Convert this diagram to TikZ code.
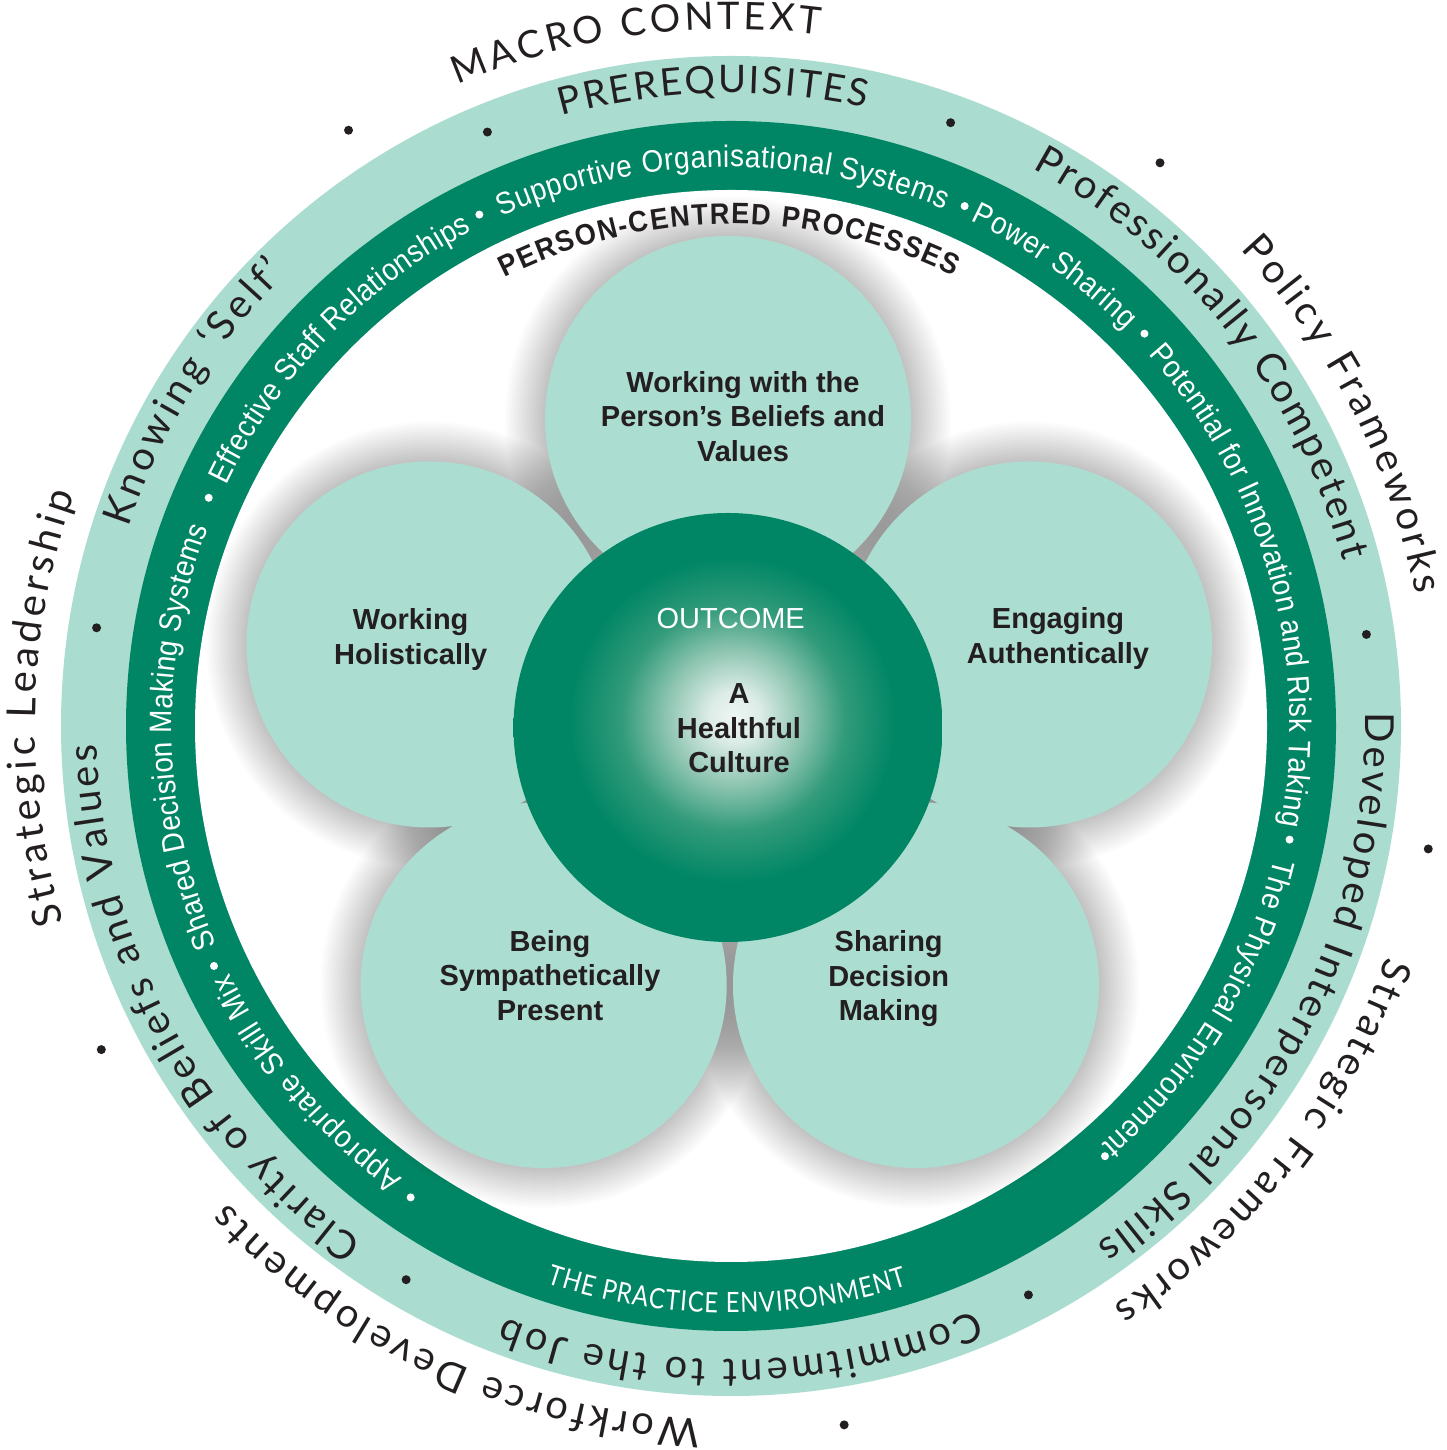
\documentclass[tikz,border=0pt]{standalone}
\usepackage{fontspec}
\setmainfont{Liberation Sans}
\newfontfamily\ringfont{Lato}
\newfontfamily\envfamily[FakeStretch=0.85]{Lato}
\newfontfamily\wfamily[FakeStretch=0.9]{Liberation Sans}
\newfontfamily\pcfamily[FakeStretch=0.92]{Liberation Sans}
\usetikzlibrary{decorations.text,calc}
\definecolor{dg}{RGB}{0,134,101}
\definecolor{lg}{RGB}{170,220,207}
\definecolor{pl}{RGB}{172,221,209}
\definecolor{ink}{RGB}{35,31,32}
\definecolor{hubA}{RGB}{238,246,242}
\definecolor{hubB}{RGB}{220,236,230}
\definecolor{hubC}{RGB}{140,196,176}
\definecolor{hubD}{RGB}{50,155,122}
\pgfdeclareradialshading{hub}{\pgfpoint{0.8bp}{1.4bp}}{color(0bp)=(hubA); color(3bp)=(hubB); color(8bp)=(hubC); color(13bp)=(hubD); color(19bp)=(dg); color(25bp)=(dg); color(50bp)=(dg)}
\newcommand\myitemfont{\ringfont\fontsize{40}{48}\selectfont}
\newcommand\myheadfont{\ringfont\fontsize{38}{45}\selectfont}
\newcommand\mywfont{\wfamily\fontsize{31}{36}\selectfont}
\newcommand\mypcfont{\pcfamily\bfseries\fontsize{29.5}{34}\selectfont}
\newcommand\myenvfont{\envfamily\fontsize{28}{34}\selectfont}
\newcommand\mypetalfont{\bfseries\fontsize{29}{34.5}\selectfont}
\newcommand\myoutfont{\fontsize{29}{34}\selectfont}
\newcommand\myringtext[6]{%
  \path[decorate,decoration={text along path,text align={fit to path},text color=#5,text={|#4|#6}}]
    ($(RC)+(#2:#1pt)$) arc[start angle=#2,end angle=#3,radius=#1pt];}
\tikzset{
  petal/.style={circle,fill=pl,minimum size=366pt,inner sep=0pt},
  hubnode/.style={circle,shade,shading=hub,minimum size=429pt,inner sep=0pt},
  ptxt/.style={align=center,font=\mypetalfont,text=ink,inner sep=0pt},
  blackdot/.style={fill=ink},
  whitedot/.style={fill=white}
}
\begin{document}
\begin{tikzpicture}[x=1pt,y=1pt]
\useasboundingbox (0,0) rectangle (1446,1450);
\fill[white] (0,0) rectangle (1446,1450);
\coordinate (RC) at (731,724);
\coordinate (FC) at (728,722.5);
% rings
\fill[lg] (RC) circle (670);
\fill[dg] (RC) circle (605);
\fill[white] (RC) circle (536);
% petal centres
\coordinate (cT) at (728,1031);
\coordinate (cL) at (429.5,805.5);
\coordinate (cR) at (1029,805.5);
\coordinate (cBL) at (543.7,465);
\coordinate (cBR) at (916,465);
% soft shadows
\foreach \c in {cT,cL,cR,cBL,cBR}{\foreach \i in {1,...,20}{\fill[black,opacity=0.012] (\c) circle ({183+2*\i});}}
% petals
\foreach \c/\n in {cBL/pBL,cL/pL,cT/pT,cR/pR,cBR/pBR}{\node[petal] (\n) at (\c) {};}
% hub
\node[hubnode] (hub) at (FC) {};
% petal texts
\node[ptxt] (tT) at (743,1033.8) {Working with the\\Person’s Beliefs and\\Values};
\node[ptxt] (tL) at (410.7,810.5) {Working\\Holistically};
\node[ptxt] (tR) at (1058,811.5) {Engaging\\Authentically};
\node[ptxt] (tBL) at (550,474.5) {Being\\Sympathetically\\Present};
\node[ptxt] (tBR) at (888.7,471.3) {Sharing\\Decision\\Making};
\node[ptxt] (tHub) at (739,721.5) {A\\Healthful\\Culture};
\node[font=\myoutfont,text=white,anchor=base,inner sep=0pt] (tOut) at (730.7,821) {OUTCOME};
% outer macro context
\myringtext{697}{113.1}{82.7}{\myheadfont}{ink}{MACRO CONTEXT}
\myringtext{697}{43.1}{10.9}{\myitemfont}{ink}{Policy Frameworks}
\myringtext{695}{340.6}{303.4}{\myitemfont}{ink}{Strategic Frameworks}
\myringtext{694}{267.5}{223.5}{\myitemfont}{ink}{Workforce Developments}
\myringtext{696}{196.4}{160.6}{\myitemfont}{ink}{Strategic Leadership}
\foreach \a in {122.7,52.7,350,279.2,207.2}{\fill[blackdot] ($(RC)+(\a:708pt)$) circle (4.5);}
% prerequisites
\myringtext{633}{105.5}{77.7}{\myheadfont}{ink}{PREREQUISITES}
\myringtext{634}{61.6}{15.1}{\myitemfont}{ink}{Professionally Competent}
\myringtext{634}{1.2}{-54.8}{\myitemfont}{ink}{Developed Interpersonal Skills}
\myringtext{634}{292.7}{249.1}{\myitemfont}{ink}{Commitment to the Job}
\myringtext{634}{234.5}{181.7}{\myitemfont}{ink}{Clarity of Beliefs and Values}
\myringtext{634}{161.8}{134.6}{\myitemfont}{ink}{Knowing ‘Self’}
\foreach \a in {112.3,70,8.2,-62.4,239.6,171.2}{\fill[blackdot] ($(RC)+(\a:642pt)$) circle (4.5);}
% practice environment
\myringtext{559}{234}{206.2}{\mywfont}{white}{Appropriate Skill Mix}
\myringtext{559}{203.1}{159.3}{\mywfont}{white}{Shared Decision Making Systems}
\myringtext{559}{154.5}{117.6}{\mywfont}{white}{Effective Staff Relationships}
\myringtext{559}{114.2}{67.6}{\mywfont}{white}{Supportive Organisational Systems}
\myringtext{559}{64.6}{45.1}{\mywfont}{white}{Power Sharing}
\myringtext{559}{41.7}{-10.2}{\mywfont}{white}{Potential for Innovation and Risk Taking}
\myringtext{559}{-13.7}{-48.5}{\mywfont}{white}{The Physical Environment}
\myringtext{587}{251.7}{287.5}{\myenvfont}{white}{THE PRACTICE ENVIRONMENT}
\foreach \a in {235.8,204.9,156.4,116.2,65.8,43.5,-11.5,-49}{\fill[whitedot] ($(RC)+(\a:570pt)$) circle (4);}
% person-centred processes
\myringtext{502}{116.8}{63.7}{\mypcfont}{ink}{PERSON-CENTRED PROCESSES}
\end{tikzpicture}
\end{document}
